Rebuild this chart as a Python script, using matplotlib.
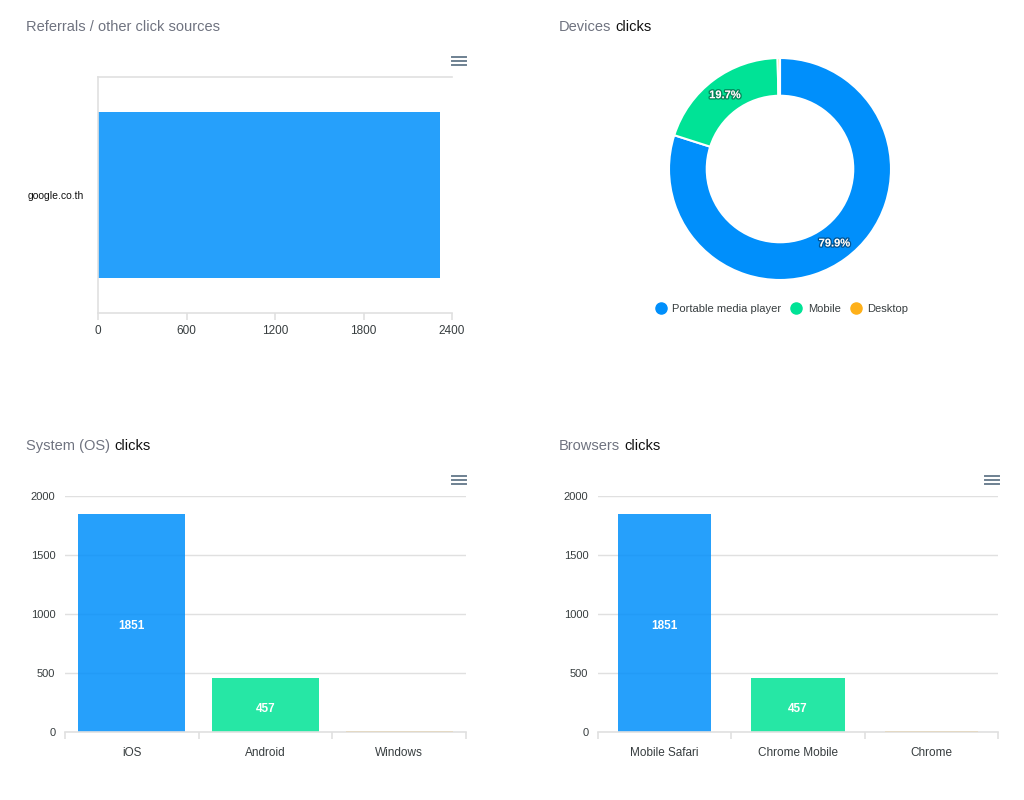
import math

import matplotlib

matplotlib.use("Agg")
import matplotlib.pyplot as plt
import matplotlib.patheffects as pe
from matplotlib.lines import Line2D

plt.rcParams["font.family"] = ["Liberation Sans", "DejaVu Sans"]

# data
referrers = ["google.co.th"]
referrer_clicks = [2316]

devices = ["Portable media player", "Mobile", "Desktop"]
device_clicks = [1851, 457, 8]

os_names = ["iOS", "Android", "Windows"]
os_clicks = [1851, 457, 8]

browsers = ["Mobile Safari", "Chrome Mobile", "Chrome"]
browser_clicks = [1851, 457, 8]

PALETTE = ["#008ffb", "#00e396", "#feb019"]
BAR_ALPHA = 0.85
GRID = "#e0e0e0"
TXT = "#373d3f"
TITLE_GRAY = "#6f7380"

W, H = 1024, 800


def rect(left, top, right, bottom):
    return [left / W, 1 - bottom / H, (right - left) / W, (bottom - top) / H]


def title(fig, x, y, gray, dark=None):
    t = fig.text(x / W, 1 - y / H, gray, color=TITLE_GRAY, fontsize=10.5, va="center")
    if dark:
        r = fig.canvas.get_renderer()
        bb = t.get_window_extent(renderer=r)
        fig.text(bb.x1 / W + 4 / W, 1 - y / H, dark, color="#111111",
                 fontsize=10.5, va="center")


def menu_icon(fig, x, y):
    for dy in (-4, 0, 4):
        fig.add_artist(Line2D([x / W, (x + 14) / W], [1 - (y + dy) / H] * 2,
                              color="#6e8192", lw=1.4))


def column_chart(fig, box, names, values, width):
    ax = fig.add_axes(rect(*box))
    xs = range(len(names))
    bars = ax.bar(xs, values, width=width, color=PALETTE, alpha=BAR_ALPHA, zorder=2)
    for b, v in zip(bars, values):
        if v > 100:
            ax.text(b.get_x() + b.get_width() / 2, v / 2 - 30, f"{v}", color="white",
                    fontsize=8.5, fontweight="bold", ha="center", va="center", zorder=3)
    ax.set_xlim(-0.5, len(names) - 0.5)
    ax.set_ylim(0, 2000)
    ax.set_yticks([0, 500, 1000, 1500, 2000])
    ax.yaxis.grid(True, color=GRID, lw=1)
    ax.set_axisbelow(True)
    for s in ("top", "right", "left"):
        ax.spines[s].set_visible(False)
    ax.spines["bottom"].set_color(GRID)
    ax.spines["bottom"].set_linewidth(1.2)
    ax.tick_params(axis="y", length=0, pad=7, labelsize=8, labelcolor=TXT)
    ax.set_xticks([i - 0.5 for i in range(len(names) + 1)], minor=False)
    ax.set_xticklabels([""] * (len(names) + 1))
    ax.tick_params(axis="x", length=5, color=GRID, width=1.2)
    ax.set_xticks(list(xs), names, minor=True)
    ax.tick_params(axis="x", which="minor", length=0, pad=11, labelsize=8.5,
                   labelcolor=TXT)
    return ax


fig = plt.figure(figsize=(W / 100, H / 100), dpi=100)

# referrals
ax = fig.add_axes(rect(98, 77, 452, 313))
ax.barh(range(len(referrers)), referrer_clicks, height=0.7, color=PALETTE[0],
        alpha=BAR_ALPHA, zorder=2)
ax.set_ylim(-0.5, 0.5)
ax.set_xlim(0, 2400)
ax.set_xticks([0, 600, 1200, 1800, 2400])
ax.set_yticks(range(len(referrers)), referrers)
ax.spines["right"].set_visible(False)
for s in ("top", "left", "bottom"):
    ax.spines[s].set_color(GRID)
    ax.spines[s].set_linewidth(1.2)
ax.tick_params(axis="x", length=5, color=GRID, width=1.2, labelsize=8.5, labelcolor=TXT)
ax.tick_params(axis="y", length=0, pad=10, labelsize=7.5, labelcolor="#111111")

# devices donut
ax = fig.add_axes(rect(669, 58, 891, 280))
wedges, _ = ax.pie(device_clicks, colors=PALETTE, startangle=90, counterclock=False,
                   radius=1, wedgeprops=dict(width=0.34, edgecolor="white", lw=1.5))
ax.set_xlim(-1, 1)
ax.set_ylim(-1, 1)
total = sum(device_clicks)
for w, v in zip(wedges, device_clicks):
    share = v / total
    if share < 0.05:
        continue
    ang = math.radians((w.theta1 + w.theta2) / 2)
    ax.text(0.83 * math.cos(ang), 0.83 * math.sin(ang), f"{share * 100:.1f}%",
            color="white", fontsize=8, fontweight="bold", ha="center", va="center",
            path_effects=[pe.withStroke(linewidth=2, foreground="#00000066")])
handles = [Line2D([], [], marker="o", ls="", markersize=8, markerfacecolor=c,
                  markeredgecolor=c) for c in PALETTE]
fig.legend(handles, devices, loc="center", bbox_to_anchor=(779 / W, 1 - 309 / H),
           ncols=3, frameon=False, fontsize=8, handletextpad=0.05, columnspacing=0.35,
           labelcolor=TXT)

column_chart(fig, (65, 496, 466, 732), os_names, os_clicks, 0.8)
column_chart(fig, (598, 496, 998, 732), browsers, browser_clicks, 0.7)

title(fig, 26, 27, "Referrals / other click sources")
title(fig, 559, 27, "Devices", "clicks")
title(fig, 26, 446, "System (OS)", "clicks")
title(fig, 559, 446, "Browsers", "clicks")

menu_icon(fig, 452, 61)
menu_icon(fig, 452, 480)
menu_icon(fig, 985, 480)

fig.savefig("out.png", dpi=100)
